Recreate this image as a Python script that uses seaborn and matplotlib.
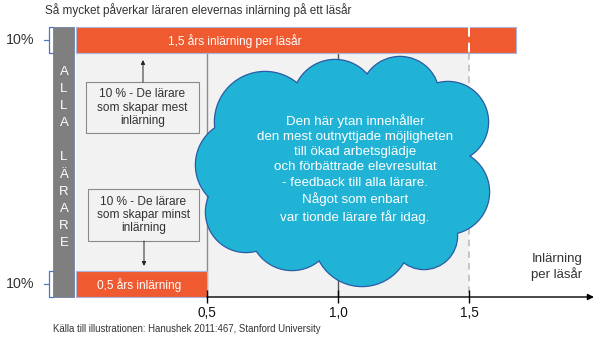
import matplotlib
matplotlib.use("Agg")
import matplotlib.pyplot as plt
from matplotlib.patches import Ellipse, Rectangle
import seaborn as sns
import pandas as pd

# ---------------- data ----------------
title = "Så mycket påverkar läraren elevernas inlärning på ett läsår"
source = "Källa till illustrationen: Hanushek 2011:467, Stanford University"
groups = ["Topp 10%", "Botten 10%"]
group_share = ["10%", "10%"]
learning = [1.68, 0.5]
bar_texts = ["1,5 års inlärning per läsår", "0,5 års inlärning"]
tick_values = [0.5, 1.0, 1.5]
tick_labels = ["0,5", "1,0", "1,5"]
axis_title = "Inlärning\nper läsår"
side_label = list("ALLA") + [""] + list("LÄRARE")
box_texts = ["10 % - De lärare\nsom skapar mest\ninlärning",
             "10 % - De lärare\nsom skapar minst\ninlärning"]
cloud_text = ("Den här ytan innehåller\nden mest outnyttjade möjligheten\n"
              "till ökad arbetsglädje\noch förbättrade elevresultat\n"
              "- feedback till alla lärare.\nNågot som enbart\n"
              "var tionde lärare får idag.")

# ---------------- style ----------------
sns.set_style("white")
plt.rcParams["font.family"] = ["Liberation Sans", "DejaVu Sans"]

ORANGE = "#EF5A30"
GRAY = "#7f7f7f"
LIGHT = "#F2F2F2"
CLOUD = "#20B3D5"
CLOUD_EDGE = "#2C5AA5"
BRACKET = "#4A76C9"
TXT = "#333333"

fig = plt.figure(figsize=(6, 3.4), dpi=100)
ax = fig.add_axes([0, 0, 1, 1])
PX0, PXU = 76.0, 262.0


def X(px):
    return (px - PX0) / PXU


TOP, BOT = 27, 297
ROW_Y = [40, 284]
BAR_H = 26

# light background area
ax.add_patch(Rectangle((0, TOP), 1.5, BOT - TOP, facecolor=LIGHT,
                       edgecolor="none", zorder=0))

# bars through seaborn
df = pd.DataFrame({"grupp": groups, "inlarning": learning, "rad": ROW_Y})
sns.barplot(data=df, x="inlarning", y="rad", orient="h", native_scale=True,
            width=BAR_H / (ROW_Y[1] - ROW_Y[0]), color=ORANGE, saturation=1,
            edgecolor="#A8B6DE", linewidth=0.8, ax=ax, zorder=2)
ax.set_xlim(X(0), X(600))
ax.set_ylim(340, 0)
ax.axis("off")

for txt, y, val in zip(bar_texts, ROW_Y, [1.5, 0.5]):
    cx = X(235) if val > 1 else X(139)
    ax.text(cx, y + 1, txt, color="white", fontsize=8.6, ha="center",
            va="center", zorder=5)

# gray column
ax.add_patch(Rectangle((X(53), TOP), X(74) - X(53), BOT - TOP,
                       facecolor=GRAY, edgecolor="#6f7fa8", lw=0.6, zorder=3))
y0 = 72
for i, ch in enumerate(side_label):
    ax.text(X(64), y0 + i * 17.1, ch, color="white", fontsize=9.5,
            ha="center", va="center", zorder=4)

# brackets and share labels
for y, lab in zip(ROW_Y, group_share):
    yt, yb = y - 13, y + 13
    ax.plot([X(53), X(49), X(49), X(53)], [yt, yt, yb, yb],
            color=BRACKET, lw=0.9, zorder=3)
    ax.plot([X(44), X(49)], [y, y], color=BRACKET, lw=0.9, zorder=3)
    ax.text(X(20), y, lab, color=TXT, fontsize=10.3, ha="center", va="center")

# vertical guide lines
ax.vlines(0.5, 53, BOT, color="#8c8c8c", lw=1, zorder=1)
ax.vlines(1.0, 53, BOT, color="#555555", lw=1, zorder=1)
ax.vlines(1.5, 53, BOT, color="#bdbdbd", lw=1.2, linestyles=(0, (4, 3)), zorder=1)
ax.vlines(1.5, TOP, 53, color="white", lw=1.4, linestyles=(0, (5, 3)), zorder=4)

# axis with arrow
ax.annotate("", xy=(X(594), BOT), xytext=(0.5, BOT),
            arrowprops=dict(arrowstyle="-|>", color="black", lw=1,
                            mutation_scale=9, shrinkA=0, shrinkB=0), zorder=6)
ax.vlines(tick_values, 290, 303, color="black", lw=1, zorder=6)
for v, lab in zip(tick_values, tick_labels):
    ax.text(v, 313, lab, fontsize=9.8, ha="center", va="center", color="#111111")
ax.text(X(557), 267, axis_title, fontsize=9.5, ha="center", va="center",
        color=TXT, linespacing=1.2)

# text boxes with arrows
boxes = [(86, 82, 199, 133), (88, 189, 199, 241)]
for (x0, y0b, x1, y1), t in zip(boxes, box_texts):
    ax.add_patch(Rectangle((X(x0), y0b), X(x1) - X(x0), y1 - y0b,
                           facecolor=LIGHT, edgecolor="#8a8a8a", lw=0.8, zorder=3))
    ax.text(X((x0 + x1) / 2), (y0b + y1) / 2, t, fontsize=8.6, ha="center",
            va="center", color=TXT, linespacing=1.15, zorder=4)
ax.annotate("", xy=(X(143), 60), xytext=(X(143), 82),
            arrowprops=dict(arrowstyle="-|>", color="#222222", lw=0.7,
                            mutation_scale=6, shrinkA=0, shrinkB=0))
ax.annotate("", xy=(X(144), 266), xytext=(X(144), 241),
            arrowprops=dict(arrowstyle="-|>", color="#222222", lw=0.7,
                            mutation_scale=6, shrinkA=0, shrinkB=0))

# cloud
circles = [(265, 122, 50), (335, 102, 42), (400, 96, 39), (448, 122, 40),
           (447, 192, 42), (424, 236, 33), (362, 238, 48), (292, 228, 42),
           (246, 212, 40), (241, 165, 45), (340, 170, 92)]
for cx, cy, r in circles:
    ax.add_patch(Ellipse((X(cx), cy), 2 * r / PXU, 2 * r, facecolor=CLOUD,
                         edgecolor=CLOUD_EDGE, lw=1.8, zorder=7))
for cx, cy, r in circles:
    ax.add_patch(Ellipse((X(cx), cy), 2 * r / PXU, 2 * r, facecolor=CLOUD,
                         edgecolor="none", zorder=8))
ax.text(X(355), 169, cloud_text, fontsize=9.6, color="white", ha="center",
        va="center", linespacing=1.36, zorder=9)

# title and source
ax.text(X(45), 10, title, fontsize=8.5, ha="left", va="center", color=TXT)
ax.text(X(53), 329, source, fontsize=6.9, ha="left", va="center", color=TXT)

fig.savefig("out.png", dpi=100)
